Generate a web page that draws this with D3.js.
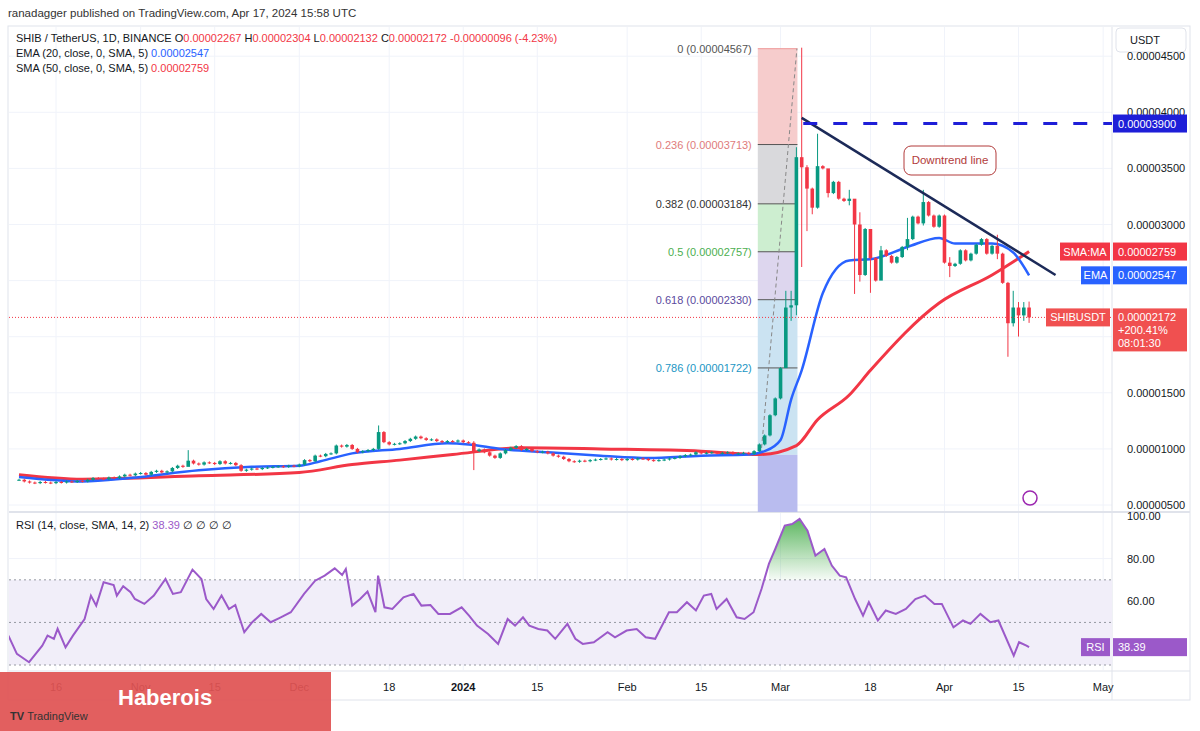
<!DOCTYPE html>
<html>
<head>
<meta charset="utf-8">
<script src="https://cdn.jsdelivr.net/npm/d3@7"></script>
<style>
  body { margin: 0; background: #fff; }
  text { font-family: "Liberation Sans", Roboto, sans-serif; }
</style>
</head>
<body>
<svg id="chart" width="1200" height="731"></svg>
<script>
// данные: дневные закрытия SHIB/USDT в единицах 1e-6, с 9 октября 2023 по 17 апреля 2024
const startDay = Date.UTC(2023, 9, 9);
const closes = [
  7.25,7.10,7.00,6.95,7.05,7.00,6.95,7.05,7.00,7.10,
  7.05,7.15,7.10,7.25,7.40,7.35,7.30,7.45,7.40,7.55,
  7.70,7.65,7.80,7.85,7.70,7.95,8.05,7.90,8.00,8.30,
  8.50,8.40,8.95,8.70,8.60,8.80,8.75,8.65,8.90,8.70,
  8.75,8.55,8.05,8.15,8.25,8.20,8.30,8.35,8.40,8.45,
  8.40,8.50,8.45,8.60,9.00,8.90,9.40,9.35,9.55,9.60,
  10.30,10.20,10.35,10.00,9.70,9.80,9.90,10.00,11.50,10.60,
  10.40,10.45,10.50,10.70,10.90,11.10,10.95,10.80,10.85,10.70,
  10.60,10.70,10.65,10.75,10.60,10.55,9.80,9.95,9.70,9.40,
  9.20,9.60,9.90,10.10,10.25,9.90,10.00,9.80,9.70,9.75,
  9.60,9.40,9.30,9.10,8.90,8.85,8.95,8.90,9.00,9.05,
  9.10,9.15,9.05,9.10,9.00,9.10,9.05,9.15,9.10,9.00,
  8.95,9.00,9.05,9.15,9.20,9.35,9.45,9.50,9.70,9.60,
  9.65,9.70,9.60,9.65,9.70,9.55,9.60,9.65,9.55,9.80,
  10.40,11.20,13.00,14.50,17.20,22.60,22.80,36.00,
  35.10,33.20,31.50,35.20,35.00,32.80,33.80,32.30,32.10,32.30,
  30.00,25.50,29.60,27.00,25.00,27.70,27.20,26.60,27.10,28.00,
  28.70,30.70,30.10,32.00,30.80,29.80,30.80,26.60,26.30,26.50,
  27.70,26.80,27.40,28.20,28.70,27.40,28.10,27.40,24.80,21.20,
  22.60,21.90,22.60,21.72
];
// заметные тени свечей: индекс дня -> [high, low]
const wicks = {
  32:[9.8,8.6], 68:[12.0,10.0], 86:[10.6,8.2], 145:[24.0,19.0], 146:[24.0,21.5], 147:[36.8,22.0],
  148:[45.67,26.3], 149:[35.2,29.5], 150:[33.2,31.0], 151:[38.0,31.5], 153:[34.8,32.5],
  157:[33.0,31.8], 158:[30.2,23.9], 159:[31.0,25.0], 161:[28.0,24.0], 163:[28.0,25.5],
  168:[30.5,27.8], 171:[33.0,30.0], 176:[27.0,25.4], 185:[29.0,27.0], 187:[24.8,18.3],
  188:[24.0,21.0], 189:[23.0,20.1], 190:[23.0,21.5], 191:[23.04,21.32]
};
// EMA 20 и SMA 50: [индекс дня, значение]
const ema20 = [[0,7.5],[12,7.1],[21,7.4],[34,8.1],[44,8.4],[53,8.5],[57,8.9],[63,9.6],[72,10.0],
  [81,10.5],[85,10.4],[91,10.0],[100,9.7],[110,9.4],[119,9.2],[129,9.4],[138,9.5],[141,9.8],
  [144,10.8],[146,14.4],[148,17.0],[152,23.9],[157,26.8],[161,26.9],[168,28.0],[174,28.8],
  [177,28.3],[184,28.3],[188,27.5],[191,25.47]];
const sma50 = [[0,7.7],[12,7.3],[34,7.6],[53,7.9],[63,8.6],[72,9.0],[82,9.5],[95,10.1],[110,10.0],
  [129,9.8],[140,9.5],[147,10.3],[151,12.6],[157,14.8],[161,17.0],[174,23.0],[184,25.5],[191,27.59]];
// RSI 14: [индекс дня, значение]
const rsi = [[-2,43.8],[-0.4,35.2],[1.9,31.3],[4.4,39.1],[5.4,43.8],[6.6,42.3],[7.3,47],[8.8,38.3],
  [10.2,43.8],[12.4,51.6],[13.6,62.6],[14.6,57.9],[16,68.9],[17.9,67.6],[18.5,62.6],[19.7,67],
  [21.1,64.2],[21.9,61],[23.7,58.7],[25.5,62.6],[27.7,70.4],[29.1,63.4],[30.6,64.2],[32.8,74.8],
  [34.5,70.4],[35.4,61],[36.8,56.3],[38.3,62.6],[39.7,56.3],[40.9,58.2],[42.6,45.4],[44.1,50.1],
  [45.8,54],[47.6,50.1],[49.5,52.4],[51.4,54.8],[53.9,63.4],[56,69.6],[57.8,72],[59.7,75.4],
  [61.1,72.3],[61.8,75.1],[63,57.9],[64.5,61],[65.9,64.5],[67.4,54.8],[67.9,72],[69.1,57.1],
  [70.6,56.3],[72.7,61.8],[74.6,63.4],[76.1,57.9],[77.8,58.2],[79.3,54],[81.5,54],[83.7,57.1],
  [85.1,53.2],[86.6,48.5],[88.7,44.6],[90.6,39.9],[92.4,51.6],[93.8,48.5],[95.3,52.4],[96.5,48.5],
  [98.2,46.9],[99.9,46.2],[101.4,42.3],[103.7,49.3],[105.2,42.3],[106.6,39.9],[108.7,40.7],
  [111.3,45.4],[112.7,43],[114.9,46.2],[116.8,46.9],[118.5,43],[120.3,42.3],[122.9,54.8],
  [124.4,54.8],[126.3,59.5],[128,55.6],[129.5,62.6],[130.9,63.4],[131.9,56.3],[133.8,61],
  [135.7,52.4],[137.2,51.6],[138.9,54.8],[140.4,65.7],[141.8,77.5],[143,84.5],[144.8,95.5],
  [146.2,96.2],[147.6,98.6],[149.1,93.1],[150.6,81.4],[152.3,84.5],[153.7,76.7],[155.2,72],
  [156.4,71.2],[158.1,61],[159.6,53.2],[160.7,59.5],[162.4,50.9],[163.9,55.6],[165.8,54],
  [167.7,56.3],[169.5,61],[171.3,62.6],[173.1,58.7],[174.5,58.7],[176.7,47.7],[178.5,50.9],
  [179.9,49.3],[181.8,54],[183.7,50.1],[185.2,50.9],[188.1,34.4],[189.1,40.7],[190.5,39.1],[191,38.39]];
// уровни Фибоначчи
const fibLevels = [0, 0.236, 0.382, 0.5, 0.618, 0.786, 1];
const fibColors = ["#f6cccc", "#d9d9dc", "#cdeed0", "#ddd6ee", "#cbe3f2", "#cbe3f2"];
const fibTextColors = ["#555", "#e07b7b", "#333", "#4caf50", "#5b4a9e", "#2196c4"];
const fibHigh = 45.67, fibLow = 9.47;
const priceTicks = [5, 10, 15, 20, 25, 30, 35, 40, 45];
const rsiTicks = [100, 80, 60];
const timeTicks = [
  [Date.UTC(2023,9,16),"16"],[Date.UTC(2023,10,1),"Nov"],[Date.UTC(2023,10,15),"15"],
  [Date.UTC(2023,11,1),"Dec"],[Date.UTC(2023,11,18),"18"],[Date.UTC(2024,0,1),"2024"],
  [Date.UTC(2024,0,15),"15"],[Date.UTC(2024,1,1),"Feb"],[Date.UTC(2024,1,15),"15"],
  [Date.UTC(2024,2,1),"Mar"],[Date.UTC(2024,2,18),"18"],[Date.UTC(2024,3,1),"Apr"],
  [Date.UTC(2024,3,15),"15"],[Date.UTC(2024,4,1),"May"]
];

const DAY = 86400000;
const svg = d3.select("#chart");
const paneR = 1112;

let x = d3.scaleLinear().domain([0, 147]).range([19, 796.4]);
let xt = d3.scaleTime().domain([new Date(startDay), new Date(startDay + 147 * DAY)]).range([19, 796.4]);
let y = d3.scaleLinear().domain([5, 45]).range([505, 56.2]);
let yr = d3.scaleLinear().domain([30, 100]).range([665, 516]);
const f8 = v => (v / 1e6).toFixed(8);

// рамка и сетка
svg.append("text").attr("x", 8).attr("y", 17).attr("font-size", 11.5).attr("fill", "#333")
  .text("ranadagger published on TradingView.com, Apr 17, 2024 15:58 UTC");
svg.append("rect").attr("x", 8).attr("y", 26).attr("width", 1182).attr("height", 674)
  .attr("fill", "none").attr("stroke", "#e0e3eb");
const grid = svg.append("g").attr("stroke", "#f0f3fa");
timeTicks.forEach(t => grid.append("line").attr("x1", xt(t[0])).attr("x2", xt(t[0])).attr("y1", 27).attr("y2", 670));
priceTicks.forEach(v => grid.append("line").attr("x1", 9).attr("x2", paneR).attr("y1", y(v)).attr("y2", y(v)));
[80, 60].forEach(v => grid.append("line").attr("x1", 9).attr("x2", paneR).attr("y1", yr(v)).attr("y2", yr(v)));
svg.append("line").attr("x1", paneR).attr("x2", paneR).attr("y1", 27).attr("y2", 700).attr("stroke", "#e0e3eb");
svg.append("line").attr("x1", 9).attr("x2", 1190).attr("y1", 512).attr("y2", 512).attr("stroke", "#e0e3eb").attr("stroke-width", 2);
svg.append("line").attr("x1", 9).attr("x2", 1190).attr("y1", 671).attr("y2", 671).attr("stroke", "#e0e3eb");

// зона Фибоначчи
const fx0 = x(139.7), fx1 = x(147.2);
const fibY = l => y(fibHigh - (fibHigh - fibLow) * l);
for (let i = 0; i < fibLevels.length - 1; i++) {
  svg.append("rect").attr("x", fx0).attr("width", fx1 - fx0)
    .attr("y", fibY(fibLevels[i])).attr("height", fibY(fibLevels[i + 1]) - fibY(fibLevels[i]))
    .attr("fill", fibColors[i]);
}
svg.append("rect").attr("x", fx0).attr("width", fx1 - fx0).attr("y", fibY(1)).attr("height", 512 - fibY(1)).attr("fill", "#b9bcef");
fibLevels.slice(0, 6).forEach((l, i) => {
  svg.append("line").attr("x1", fx0).attr("x2", fx1).attr("y1", fibY(l)).attr("y2", fibY(l))
    .attr("stroke", i === 0 ? "#e99" : "#555").attr("stroke-width", 1);
  svg.append("text").attr("x", fx0 - 6).attr("y", fibY(l) + 4).attr("text-anchor", "end")
    .attr("font-size", 11).attr("fill", fibTextColors[i])
    .text(`${l} (${f8(fibHigh - (fibHigh - fibLow) * l)})`);
});
svg.append("line").attr("x1", x(140.3)).attr("y1", fibY(1)).attr("x2", x(147.1)).attr("y2", fibY(0))
  .attr("stroke", "#888").attr("stroke-dasharray", "4,3");

// скользящие средние
const line = d3.line().x(d => x(d[0])).y(d => y(d[1])).curve(d3.curveMonotoneX);
svg.append("path").datum(sma50).attr("d", line).attr("fill", "none").attr("stroke", "#f23645").attr("stroke-width", 3);
svg.append("path").datum(ema20).attr("d", line).attr("fill", "none").attr("stroke", "#2962ff").attr("stroke-width", 2.5);

// свечи
const candles = closes.map((c, i) => {
  const o = i === 0 ? c : closes[i - 1];
  const w = wicks[i] || [Math.max(o, c), Math.min(o, c)];
  return { i, o, c, h: w[0], l: w[1] };
});
const cg = svg.append("g");
cg.selectAll("line").data(candles).enter().append("line")
  .attr("x1", d => x(d.i)).attr("x2", d => x(d.i))
  .attr("y1", d => y(d.h) - 1).attr("y2", d => y(d.l) + 1)
  .attr("stroke", d => d.c >= d.o ? "#089981" : "#f23645");
cg.selectAll("rect").data(candles).enter().append("rect")
  .attr("x", d => x(d.i) - 1.8).attr("width", 3.6)
  .attr("y", d => y(Math.max(d.o, d.c)))
  .attr("height", d => Math.max(1, Math.abs(y(d.o) - y(d.c))))
  .attr("fill", d => d.c >= d.o ? "#089981" : "#f23645");

// линия тренда и уровень 0.000039
svg.append("line").attr("x1", x(148)).attr("y1", y(39.5)).attr("x2", x(196)).attr("y2", y(25.5))
  .attr("stroke", "#1c2a58").attr("stroke-width", 2.5);
svg.append("line").attr("x1", x(148.3)).attr("x2", paneR).attr("y1", y(39)).attr("y2", y(39))
  .attr("stroke", "#1e1ed8").attr("stroke-width", 3).attr("stroke-dasharray", "14,16");
svg.append("rect").attr("x", 904).attr("y", 146).attr("width", 92).attr("height", 29).attr("rx", 7)
  .attr("fill", "#fff").attr("stroke", "#b23b3b");
svg.append("text").attr("x", 950).attr("y", 164).attr("text-anchor", "middle").attr("font-size", 11.5)
  .attr("fill", "#b23b3b").text("Downtrend line");
svg.append("line").attr("x1", 9).attr("x2", paneR).attr("y1", y(21.72)).attr("y2", y(21.72))
  .attr("stroke", "#f23645").attr("stroke-dasharray", "1,2");

// ось цен (подписи 0.00002000 и 0.00002500 закрыты плашками)
svg.append("rect").attr("x", 1116).attr("y", 28).attr("width", 70).attr("height", 24).attr("rx", 4)
  .attr("fill", "#fff").attr("stroke", "#e0e3eb");
svg.append("text").attr("x", 1130).attr("y", 44).attr("font-size", 11).attr("fill", "#131722").text("USDT");
priceTicks.filter(v => v !== 20 && v !== 25).forEach(v => svg.append("text").attr("x", 1127).attr("y", y(v) + 4).attr("font-size", 11)
  .attr("fill", "#131722").text(f8(v)));
function tag(yc, label, val, color, h) {
  h = h || 18;
  if (label) {
    const w = label.length * 7 + 8;
    svg.append("rect").attr("x", paneR - 2 - w).attr("y", yc - 9).attr("width", w).attr("height", 18).attr("fill", color);
    svg.append("text").attr("x", paneR - 2 - w / 2).attr("y", yc + 4).attr("text-anchor", "middle")
      .attr("font-size", 11).attr("fill", "#fff").text(label);
  }
  svg.append("rect").attr("x", paneR + 1).attr("y", yc - 9).attr("width", 74).attr("height", h).attr("fill", color);
  val.forEach((t, k) => svg.append("text").attr("x", paneR + 6).attr("y", yc + 4 + k * 13)
    .attr("font-size", 11).attr("fill", "#fff").text(t));
}
tag(y(39), null, ["0.00003900"], "#1e1ed8");
tag(y(27.59), "SMA:MA", ["0.00002759"], "#f23645");
tag(y(25.47), "EMA", ["0.00002547"], "#2962ff");
tag(y(21.72), "SHIBUSDT", ["0.00002172", "+200.41%", "08:01:30"], "#f05050", 43);

// легенда
const leg = svg.append("g").attr("font-size", 11);
const legTxt = (yy, parts) => {
  const t = leg.append("text").attr("x", 16).attr("y", yy);
  parts.forEach(p => t.append("tspan").attr("fill", p[1]).text(p[0]));
};
legTxt(42, [["SHIB / TetherUS, 1D, BINANCE  O", "#131722"], ["0.00002267", "#f23645"], ["  H", "#131722"],
  ["0.00002304", "#f23645"], ["  L", "#131722"], ["0.00002132", "#f23645"], ["  C", "#131722"],
  ["0.00002172  -0.00000096 (-4.23%)", "#f23645"]]);
legTxt(57, [["EMA (20, close, 0, SMA, 5)  ", "#131722"], ["0.00002547", "#2962ff"]]);
legTxt(72, [["SMA (50, close, 0, SMA, 5)  ", "#131722"], ["0.00002759", "#f23645"]]);
svg.append("circle").attr("cx", 1030).attr("cy", 498).attr("r", 7).attr("fill", "none").attr("stroke", "#9c27b0").attr("stroke-width", 1.5);

// панель RSI
svg.append("rect").attr("x", 9).attr("width", paneR - 9).attr("y", yr(70)).attr("height", yr(30) - yr(70)).attr("fill", "#f1eef9");
[70, 50, 30].forEach(v => svg.append("line").attr("x1", 9).attr("x2", paneR).attr("y1", yr(v)).attr("y2", yr(v))
  .attr("stroke", "#9598a1").attr("stroke-dasharray", "2,3"));
const grad = svg.append("defs").append("linearGradient").attr("id", "g1").attr("x1", 0).attr("x2", 0).attr("y1", 0).attr("y2", 1);
grad.append("stop").attr("offset", "0%").attr("stop-color", "#4caf50").attr("stop-opacity", 0.9);
grad.append("stop").attr("offset", "100%").attr("stop-color", "#4caf50").attr("stop-opacity", 0.05);
const over = rsi.filter(d => d[0] >= 140.6 && d[0] <= 156.8);
svg.append("path").datum(over)
  .attr("d", d3.area().x(d => x(d[0])).y0(yr(70)).y1(d => yr(Math.max(70, d[1]))))
  .attr("fill", "url(#g1)");
svg.append("clipPath").attr("id", "cp").append("rect").attr("x", 9).attr("y", 513).attr("width", paneR - 9).attr("height", 157);
svg.append("path").datum(rsi).attr("clip-path", "url(#cp)")
  .attr("d", d3.line().x(d => x(d[0])).y(d => yr(d[1])))
  .attr("fill", "none").attr("stroke", "#9b59c9").attr("stroke-width", 2);
rsiTicks.forEach(v => svg.append("text").attr("x", 1127).attr("y", yr(v) + 4).attr("font-size", 11)
  .attr("fill", "#131722").text(v.toFixed(2)));
tag(yr(38.39), "RSI", ["38.39"], "#9b59c9");
const rl = svg.append("text").attr("x", 16).attr("y", 529).attr("font-size", 11);
rl.append("tspan").attr("fill", "#131722").text("RSI (14, close, SMA, 14, 2)  ");
rl.append("tspan").attr("fill", "#9b59c9").text("38.39");
rl.append("tspan").attr("fill", "#131722").text("  ∅  ∅  ∅  ∅");

// ось времени
timeTicks.forEach(t => svg.append("text").attr("x", xt(t[0])).attr("y", 691).attr("text-anchor", "middle")
  .attr("font-size", 11).attr("font-weight", t[1] === "2024" ? "bold" : "normal").attr("fill", "#131722").text(t[1]));

// водяной знак (полупрозрачный, как в оригинале)
svg.append("rect").attr("x", 0).attr("y", 672).attr("width", 331).attr("height", 59).attr("fill", "#e05353").attr("opacity", 0.93);
svg.append("text").attr("x", 118).attr("y", 705).attr("font-size", 22).attr("font-weight", "bold")
  .attr("fill", "#fff").text("Haberois");
svg.append("text").attr("x", 10).attr("y", 720).attr("font-size", 11).attr("fill", "#333")
  .append("tspan").attr("font-weight", "bold").text("TV ").append("tspan").attr("font-weight", "normal").text("TradingView");
</script>
</body>
</html>
